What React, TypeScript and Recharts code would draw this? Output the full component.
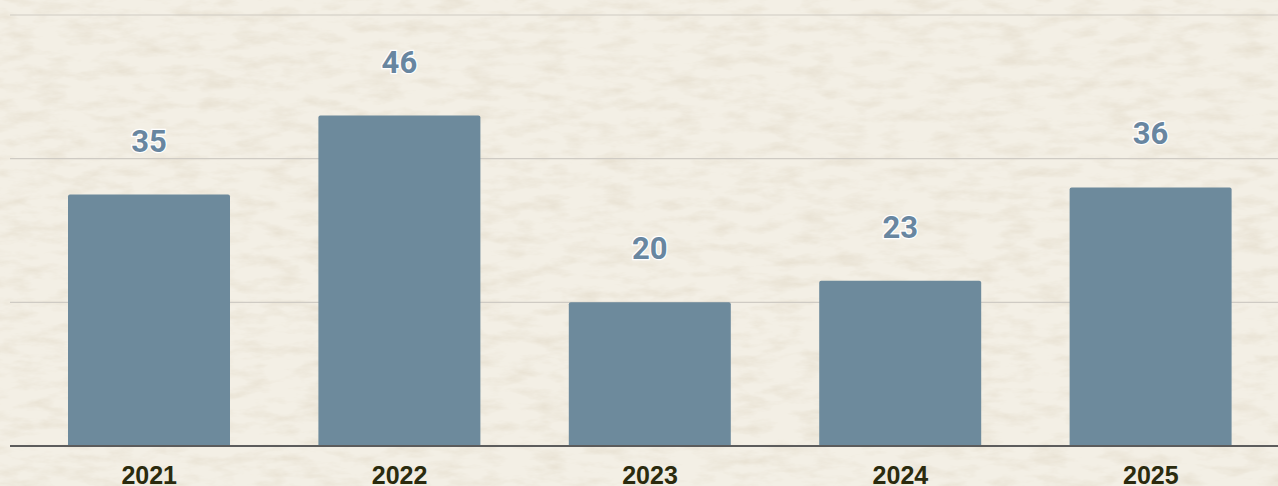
import React from 'react';
import { BarChart, Bar, XAxis, YAxis, CartesianGrid, LabelList } from 'recharts';

const years = ['2021', '2022', '2023', '2024', '2025'];
const counts = [35, 46, 20, 23, 36];
const yTicks = [0, 20, 40, 60];

const data = years.map((year, i) => ({ year, count: counts[i] }));

const W = 1278;
const H = 486;

const PaperBackground: React.FC = () => (
    <svg width={W} height={H} style={{ position: 'absolute', left: 0, top: 0 }}>
        <defs>
            <filter id="paper" x="0" y="0" width="100%" height="100%">
                <feTurbulence type="fractalNoise" baseFrequency="0.03 0.09" numOctaves={5} seed={7} result="noise" />
                <feColorMatrix
                    in="noise"
                    type="matrix"
                    values="0 0 0 0 0.66  0 0 0 0 0.58  0 0 0 0 0.44  0 0 0 0.7 -0.3"
                />
            </filter>
        </defs>
        <rect width={W} height={H} fill="#f3efe5" />
        <rect width={W} height={H} filter="url(#paper)" />
    </svg>
);

const App: React.FC = () => {
    return (
        <div style={{ position: 'relative', width: W, height: H, overflow: 'hidden' }}>
            <style>{`body { margin: 0; }`}</style>
            <PaperBackground />
            <div style={{ position: 'absolute', left: 0, top: 0 }}>
                <BarChart
                    width={W}
                    height={H}
                    data={data}
                    margin={{ top: 15, right: 0, bottom: 0, left: 10 }}
                >
                    <CartesianGrid vertical={false} stroke="#cfcbc4" strokeWidth={1.2} />
                    <YAxis hide domain={[0, 60]} ticks={yTicks} />
                    <XAxis
                        dataKey="year"
                        height={40}
                        padding={{ left: 14, right: 2 }}
                        tickLine={false}
                        axisLine={{ stroke: '#5c5c5c', strokeWidth: 2 }}
                        tickMargin={14}
                        tick={{
                            fill: '#2b2b0e',
                            fontSize: 25,
                            fontWeight: 700,
                            fontFamily: '"Liberation Sans", Arial, sans-serif',
                        }}
                    />
                    <Bar dataKey="count" fill="#6d8a9c" barSize={162} radius={[2, 2, 0, 0]} isAnimationActive={false}>
                        <LabelList
                            dataKey="count"
                            position="top"
                            offset={43}
                            fill="#6886a0"
                            stroke="#ffffff"
                            strokeWidth={2.5}
                            paintOrder="stroke"
                            style={{ fontSize: 31, fontWeight: 700, fontFamily: 'Roboto, sans-serif' }}
                        />
                    </Bar>
                </BarChart>
            </div>
        </div>
    );
};

export default App;
